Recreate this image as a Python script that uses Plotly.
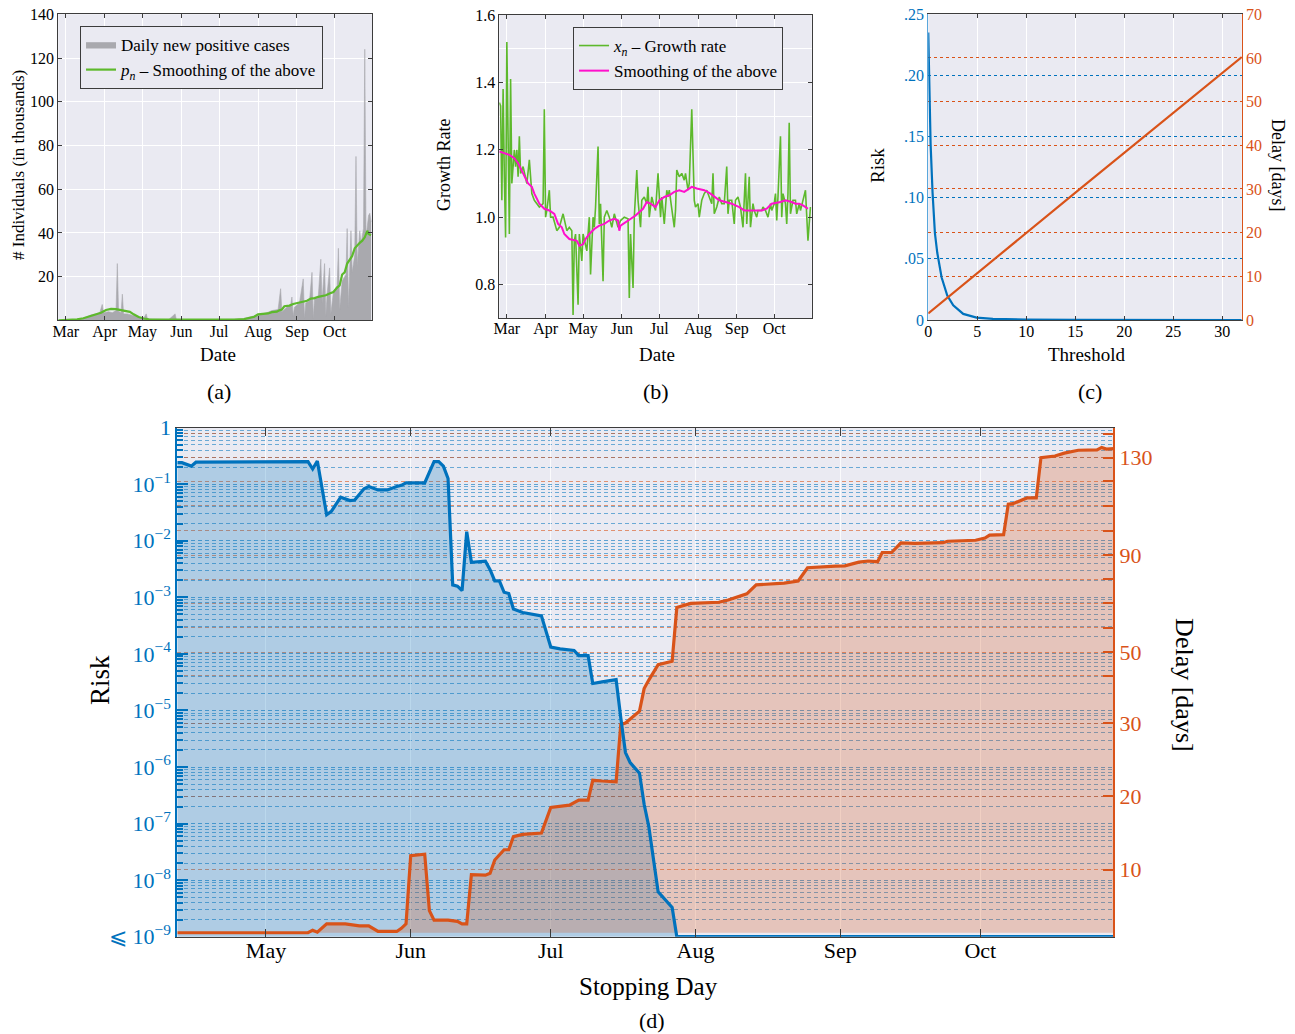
import numpy as np
import pandas as pd
import plotly.graph_objects as go

# ---------------------------------------------------------------- data
# (a) daily new positive cases (thousands), days counted from START_AB
START_AB = "2020-02-24"
CASES_DAY = [0, 8, 14, 18, 22, 26, 30, 33, 35, 36,
             40, 43, 46, 47, 48, 50, 51, 52, 55, 58,
             62, 65, 68, 70, 71, 75, 80, 88, 93, 94,
             100, 110, 120, 130, 140, 147, 152, 157, 162, 166,
             170, 174, 175, 177, 178, 182, 185, 186, 187, 188,
             192, 195, 196, 197, 200, 202, 203, 204, 207, 209,
             210, 212, 213, 214, 216, 217, 219, 222, 223, 224,
             226, 229, 230, 231, 233, 234, 236, 237, 238, 240,
             241, 243, 244, 245, 247, 248, 249]
CASES_K = [0, 0.1, 0.3, 0.6, 1.5, 2.5, 3.0, 3.5, 7.3, 3.5,
           4.0, 3.5, 4.5, 26, 4.2, 3.5, 12, 3.0, 3.0, 2.5,
           2.0, 1.5, 1.0, 3.0, 0.8, 0.6, 0.5, 0.4, 3.0, 0.4,
           0.3, 0.3, 0.3, 0.4, 0.5, 0.8, 1.5, 2.0, 3.0, 3.5,
           4.5, 5.0, 5.0, 14.5, 4.0, 6.0, 7.0, 10.7, 2.0, 6.0,
           8.0, 19, 1.0, 8.0, 9.0, 22, 1.0, 10, 11, 28,
           8, 26, 2, 12, 24, 3, 13, 16, 33, 5,
           18, 21, 42, 6, 41, 22, 30, 75, 25, 41,
           35, 42, 124, 38, 48, 49, 45]
SMOOTH_DAY = [0, 10, 15, 20, 25, 30, 34, 38, 42, 46,
              50, 54, 57, 60, 64, 68, 72, 80, 100, 120,
              140, 148, 152, 156, 159, 163, 167, 170, 174, 176,
              178, 180, 184, 187, 191, 195, 198, 201, 204, 207,
              210, 213, 216, 219, 222, 224, 226, 228, 230, 232,
              234, 236, 238, 240, 242, 244, 246, 247, 249]
SMOOTH_K = [0, 0.2, 0.5, 1.0, 1.8, 2.8, 3.5, 4.8, 5.3, 5.2,
            4.6, 4.3, 3.9, 2.8, 1.6, 0.9, 0.5, 0.4, 0.3, 0.3,
            0.4, 0.6, 1.2, 1.7, 2.8, 3.0, 3.2, 3.8, 4.0, 4.6,
            5.0, 6.5, 6.8, 7.5, 8.0, 8.5, 9.0, 10.0, 10.2, 10.8,
            11.0, 11.5, 12.3, 13.0, 15.0, 16.0, 21.0, 22.0, 26.0, 28.0,
            29.5, 33.0, 34.5, 35.5, 36.5, 38.0, 41.0, 39.5, 39.0]

# (b) growth rate x_n and its smoothing
GROWTH_DAY = [0, 1, 2, 3, 4, 5, 6, 7, 8, 9,
              10, 12, 13, 14, 15, 16, 17, 19, 20, 22,
              24, 26, 28, 30, 32, 35, 36, 37, 38, 40,
              41, 43, 46, 48, 51, 54, 56, 58, 59, 60,
              61, 63, 64, 66, 67, 70, 72, 73, 75, 76,
              77, 79, 80, 81, 83, 84, 86, 88, 90, 92,
              95, 97, 100, 103, 104, 105, 107, 108, 110, 111,
              113, 114, 116, 118, 119, 120, 122, 124, 125, 127,
              128, 129, 130, 132, 134, 135, 136, 138, 140, 141,
              142, 144, 146, 148, 149, 151, 152, 154, 156, 157,
              159, 160, 162, 164, 166, 168, 170, 171, 172, 174,
              176, 178, 180, 182, 183, 184, 186, 188, 189, 191,
              193, 195, 197, 198, 200, 201, 203, 204, 206, 207,
              210, 211, 213, 215, 217, 218, 220, 221, 222, 223,
              225, 226, 227, 229, 230, 231, 232, 233, 235, 237,
              238, 240, 241, 243, 245, 247, 249]
GROWTH = [1.34, 1.33, 1.05, 1.38, 1.12, 0.94, 1.52, 1.15, 0.95, 1.41,
          1.10, 1.20, 1.15, 1.20, 1.12, 1.24, 1.13, 1.15, 1.13, 1.10,
          1.17, 1.07, 1.05, 1.04, 1.03, 1.04, 1.32, 1.00, 1.02, 1.08,
          1.00, 1.00, 0.96, 0.97, 1.01, 0.96, 0.97, 0.96, 0.71, 0.93,
          0.95, 0.74, 0.95, 0.87, 0.95, 0.90, 1.00, 0.83, 1.00, 0.97,
          1.03, 1.21, 0.98, 1.04, 0.81, 1.00, 1.02, 1.00, 0.97, 1.01,
          0.97, 0.99, 1.00, 0.995, 0.76, 0.95, 0.79, 1.00, 1.14, 1.05,
          0.97, 1.05, 1.06, 1.04, 1.09, 1.00, 1.06, 1.03, 1.02, 1.13,
          1.05, 1.00, 1.06, 0.98, 1.08, 1.06, 1.08, 1.02, 0.97, 1.02,
          1.14, 1.12, 1.13, 1.11, 1.13, 1.08, 1.10, 1.32, 1.05, 1.03,
          1.04, 1.00, 1.05, 1.07, 1.08, 1.06, 1.04, 1.13, 1.01, 1.03,
          1.06, 1.04, 1.04, 1.15, 1.01, 1.05, 1.05, 0.98, 1.05, 1.06,
          1.03, 0.97, 1.13, 0.98, 1.12, 0.97, 1.04, 1.02, 1.00, 1.02,
          1.02, 1.03, 1.02, 1.00, 1.04, 1.02, 1.04, 1.07, 0.99, 1.06,
          1.24, 1.00, 1.07, 1.04, 0.98, 1.07, 1.28, 1.01, 1.05, 1.05,
          1.01, 1.04, 1.02, 1.05, 1.08, 0.93, 1.03]
GROWTH_SMOOTH_DAY = [0, 8, 12, 15, 19, 23, 26, 28, 32, 36,
                     40, 44, 47, 50, 52, 56, 62, 64, 67, 69,
                     72, 76, 80, 84, 88, 92, 95, 96, 97, 101,
                     105, 109, 115, 118, 121, 125, 128, 132, 136, 140,
                     144, 148, 154, 158, 164, 169, 176, 181, 186, 192,
                     196, 203, 210, 214, 218, 225, 229, 234, 237, 240,
                     243, 247]
GROWTH_SMOOTH = [1.195, 1.185, 1.175, 1.16, 1.13, 1.10, 1.09, 1.07, 1.04, 1.025,
                 1.02, 1.01, 0.98, 0.97, 0.95, 0.935, 0.93, 0.915, 0.92, 0.935,
                 0.95, 0.965, 0.975, 0.98, 0.99, 0.995, 0.99, 0.96, 0.975, 0.985,
                 0.995, 1.005, 1.025, 1.045, 1.04, 1.03, 1.05, 1.06, 1.065, 1.075,
                 1.08, 1.075, 1.09, 1.085, 1.08, 1.07, 1.05, 1.045, 1.04, 1.03,
                 1.02, 1.02, 1.02, 1.025, 1.04, 1.045, 1.05, 1.045, 1.04, 1.04,
                 1.035, 1.025]

# (c) risk and delay as functions of the threshold
RISK_THRESHOLD = [0, 0.1, 0.24, 0.44, 0.68, 0.92, 1.36, 1.94, 2.55, 3.57, 4.93, 6.6, 10, 15, 32]
RISK_C = [0.235, 0.185, 0.144, 0.104, 0.071, 0.055, 0.035, 0.020, 0.012, 0.005,
          0.002, 0.001, 0.0003, 0.0001, 0.0]
DELAY_THRESHOLD = [0, 15.3, 32]
DELAY_C = [1.5, 29.7, 60.2]

# (d) risk and delay per stopping day, days counted from START_D
START_D = "2020-04-12"
RISK_DAY = [0, 1, 3, 4, 28, 29, 30, 32, 33, 35,
            37, 38, 40, 41, 43, 45, 47, 48, 49, 53,
            55, 56, 57, 58, 59, 60, 61, 62, 63, 66,
            67, 68, 69, 70, 71, 72, 74, 76, 78, 80,
            82, 85, 86, 88, 89, 91, 94, 95, 96, 97,
            99, 100, 101, 103, 106, 107, 201]
RISK_D = [0.24, 0.24, 0.209, 0.245, 0.251, 0.186, 0.257, 0.0288, 0.0331, 0.0589,
          0.0513, 0.0525, 0.0832, 0.0912, 0.0794, 0.0794, 0.0912, 0.0955, 0.106, 0.106,
          0.251, 0.251, 0.209, 0.126, 1.66e-3, 1.58e-3, 1.32e-3, 0.0145, 4.17e-3, 4.37e-3,
          3.09e-3, 1.95e-3, 1.95e-3, 1.23e-3, 1.17e-3, 6.2e-4, 5.4e-4, 5.1e-4, 4.7e-4, 1.32e-4,
          1.23e-4, 1.15e-4, 9.3e-5, 9.3e-5, 3.0e-5, 3.2e-5, 3.5e-5, 7.4e-6, 1.8e-6, 1.2e-6,
          7.8e-7, 2.2e-7, 8.9e-8, 6.2e-9, 3.3e-9, 1e-9, 1e-9]
DELAY_DAY = [0, 28, 29, 30, 32, 36, 39, 41, 43, 47,
             48, 49, 50, 53, 54, 55, 58, 60, 61, 62,
             63, 66, 67, 68, 70, 71, 72, 74, 78, 80,
             84, 86, 88, 89, 91, 94, 95, 96, 99, 100,
             101, 103, 106, 107, 110, 116, 118, 122, 124, 130,
             133, 135, 141, 143, 146, 148, 150, 151, 153, 155,
             158, 164, 165, 171, 173, 174, 177, 178, 179, 182,
             184, 185, 188, 190, 193, 197, 198, 199, 201]
DELAY_D = [0.0, 0.0, 0.4, 0.1, 1.4, 1.4, 1.1, 1.1, 0.2, 0.2,
           0.7, 1.4, 11.9, 12.1, 3.5, 2.0, 2.0, 1.8, 1.4, 1.4,
           9.2, 9.1, 9.4, 11.3, 12.7, 12.7, 14.5, 14.8, 15.0, 18.5,
           18.8, 19.5, 19.5, 22.2, 22.1, 22.0, 29.8, 30.0, 32.5, 37.3,
           39.1, 44.8, 46.2, 68.3, 70.0, 70.5, 71.4, 74.0, 77.7, 78.4,
           79.3, 84.8, 85.5, 85.6, 87.1, 87.6, 87.3, 91.1, 91.1, 95.0,
           94.8, 95.1, 95.7, 96.1, 97.0, 98.2, 98.4, 110.7, 110.9, 113.2,
           113.2, 130.0, 130.7, 131.9, 133.1, 133.3, 134.3, 133.6, 133.8]

# Non-uniform delay scale of panel (d): days -> axis coordinate (decades above the risk floor)
DELAY_SCALE_DAYS = [0, 10, 20, 30, 40, 50, 60, 70, 80, 90, 100, 110, 120, 130, 140]
DELAY_SCALE_COORD = [0.0, 1.118, 2.410, 3.708, 4.542, 4.957, 5.396, 5.822, 6.249,
                     6.675, 7.108, 7.547, 7.985, 8.400, 8.820]
DELAY_LABELLED = [10, 20, 30, 50, 90, 130]

for a, b in [(CASES_DAY, CASES_K), (SMOOTH_DAY, SMOOTH_K), (GROWTH_DAY, GROWTH),
             (GROWTH_SMOOTH_DAY, GROWTH_SMOOTH), (RISK_THRESHOLD, RISK_C),
             (RISK_DAY, RISK_D), (DELAY_DAY, DELAY_D)]:
    assert len(a) == len(b)

# ---------------------------------------------------------------- style
FONT = "Liberation Serif"
BG = "#EAEAF2"
FRAME = "#3c3c3c"
BLUE = "#0072BD"
ORANGE = "#D95319"
GREEN = "#5DB92C"
MAGENTA = "#FF10CC"
GRAY = "#A9A9AE"


def dates(start, days):
    base = pd.Timestamp(start)
    return [(base + pd.Timedelta(days=float(d))).strftime("%Y-%m-%d %H:%M:%S") for d in days]


def delay_coord(days):
    return np.interp(np.asarray(days, float), DELAY_SCALE_DAYS, DELAY_SCALE_COORD)


fig = go.Figure()

# (a)
fig.add_trace(go.Scatter(
    x=dates(START_AB, CASES_DAY), y=CASES_K, xaxis="x", yaxis="y",
    mode="lines", fill="tozeroy", fillcolor=GRAY, line=dict(color=GRAY, width=0.6),
    name="Daily new positive cases", legend="legend"))
fig.add_trace(go.Scatter(
    x=dates(START_AB, SMOOTH_DAY), y=SMOOTH_K, xaxis="x", yaxis="y",
    mode="lines", line=dict(color=GREEN, width=2.2),
    name="<i>p<sub>n</sub></i> – Smoothing of the above", legend="legend"))

# (b)
fig.add_trace(go.Scatter(
    x=dates(START_AB, GROWTH_DAY), y=GROWTH, xaxis="x2", yaxis="y2",
    mode="lines", line=dict(color=GREEN, width=1.6),
    name="<i>x<sub>n</sub></i> – Growth rate", legend="legend2"))
fig.add_trace(go.Scatter(
    x=dates(START_AB, GROWTH_SMOOTH_DAY), y=GROWTH_SMOOTH, xaxis="x2", yaxis="y2",
    mode="lines", line=dict(color=MAGENTA, width=2),
    name="Smoothing of the above", legend="legend2"))

# (c)
fig.add_trace(go.Scatter(
    x=RISK_THRESHOLD, y=RISK_C, xaxis="x3", yaxis="y3", mode="lines",
    line=dict(color=BLUE, width=2.2), showlegend=False))
fig.add_trace(go.Scatter(
    x=DELAY_THRESHOLD, y=DELAY_C, xaxis="x3", yaxis="y4", mode="lines",
    line=dict(color=ORANGE, width=2.2), showlegend=False))

# (d)
risk_x = dates(START_D, RISK_DAY)
delay_x = dates(START_D, DELAY_DAY)
fig.add_trace(go.Scatter(
    x=risk_x, y=RISK_D, xaxis="x4", yaxis="y5", mode="lines", fill="tozeroy",
    fillcolor="rgba(0,114,189,0.25)", line=dict(width=0), showlegend=False))
fig.add_trace(go.Scatter(
    x=delay_x, y=delay_coord(DELAY_D), xaxis="x4", yaxis="y6", mode="lines", fill="tozeroy",
    fillcolor="rgba(217,83,25,0.25)", line=dict(width=0), showlegend=False))
fig.add_trace(go.Scatter(
    x=delay_x, y=delay_coord(DELAY_D), xaxis="x4", yaxis="y6", mode="lines",
    line=dict(color=ORANGE, width=3.2), showlegend=False))
fig.add_trace(go.Scatter(
    x=risk_x, y=RISK_D, xaxis="x4", yaxis="y7", mode="lines",
    line=dict(color=BLUE, width=3.2), showlegend=False))

tick_small = dict(family=FONT, size=16, color="black")
box = dict(showline=True, linecolor=FRAME, linewidth=1, mirror="ticks", ticks="inside",
           ticklen=4, tickcolor=FRAME, zeroline=False, showgrid=True, gridcolor="white",
           gridwidth=1, tickfont=tick_small, automargin=False)
date_ab = dict(type="date", range=["2020-02-24", "2020-10-31"], dtick="M1",
               tick0="2020-03-01", tickformat="%b", ticklabelstandoff=-4)

decades = [10.0 ** k for k in range(-9, 1)]
decade_text = ["⩽ 10<sup>−9</sup>"] + ["10<sup>−%d</sup>" % k for k in range(8, 0, -1)] + ["1"]
minor_vals = [m * 10.0 ** k for k in range(-9, 0) for m in range(2, 10)]
dash = "4px,3px"

fig.update_layout(
    width=1295, height=1034, margin=dict(l=0, r=0, t=0, b=0, autoexpand=False),
    paper_bgcolor="white", plot_bgcolor=BG,
    font=dict(family=FONT, color="black"),
    xaxis=dict(domain=[0.0450, 0.2875], anchor="y", **box, **date_ab),
    yaxis=dict(domain=[0.6901, 0.9862], anchor="x", range=[0, 140],
               tickvals=[20, 40, 60, 80, 100, 120, 140], **box),
    xaxis2=dict(domain=[0.3856, 0.6268], anchor="y2", **box, **date_ab),
    yaxis2=dict(domain=[0.6922, 0.9855], anchor="x2", range=[0.7, 1.6],
                tickvals=[0.8, 1.0, 1.2, 1.4, 1.6], tickformat=".1f",
                minor=dict(dtick=0.1, showgrid=True, gridcolor="white"), **box),
    xaxis3=dict(domain=[0.7168, 0.9589], anchor="y3", range=[0, 32],
                tickvals=[0, 5, 10, 15, 20, 25, 30], ticklabelstandoff=-3, **box),
    yaxis3=dict(domain=[0.6905, 0.9862], anchor="x3", range=[0, 0.25],
                tickvals=[0, 0.05, 0.10, 0.15, 0.20, 0.25],
                ticktext=["0", ".05", ".10", ".15", ".20", ".25"],
                tickfont=dict(family=FONT, size=16, color=BLUE),
                showline=True, linecolor="#5aa7dc", linewidth=1.2,
                ticks="", zeroline=False, showgrid=True, gridcolor=BLUE,
                griddash="dot", gridwidth=1, automargin=False),
    yaxis4=dict(overlaying="y3", anchor="x3", side="right", range=[0, 70], dtick=10,
                tickfont=dict(family=FONT, size=16, color=ORANGE),
                showline=True, linecolor=ORANGE, linewidth=1.2, ticks="",
                zeroline=False, showgrid=True, gridcolor=ORANGE, griddash="dot",
                gridwidth=1, automargin=False),
    xaxis4=dict(domain=[0.1369, 0.8597], anchor="y5", type="date",
                range=[START_D, "2020-10-29 12:00"], dtick="M1", tick0="2020-05-01",
                tickformat="%b", showline=True, linecolor=FRAME, linewidth=1.2,
                mirror="ticks", ticks="inside", ticklen=8, tickcolor=FRAME,
                showgrid=True, gridcolor="rgba(255,255,255,0.75)", zeroline=False,
                ticklabelstandoff=-6,
                tickfont=dict(family=FONT, size=22, color="black"), automargin=False),
    yaxis5=dict(domain=[0.0941, 0.5864], anchor="x4", type="log", range=[-9, 0],
                tickvals=decades, ticktext=decade_text,
                tickfont=dict(family=FONT, size=22, color=BLUE),
                showline=True, linecolor=BLUE, linewidth=2, ticks="inside",
                ticklen=11, tickcolor=BLUE, tickwidth=1.5, zeroline=False,
                showgrid=True, gridcolor="rgba(0,114,189,0.6)", griddash=dash, gridwidth=1,
                automargin=False,
                minor=dict(tickmode="array", tickvals=minor_vals, ticks="inside",
                           ticklen=6, tickcolor=BLUE, showgrid=True,
                           gridcolor="rgba(0,114,189,0.55)", griddash=dash, gridwidth=1)),
    yaxis6=dict(overlaying="y5", anchor="x4", side="right", range=[-0.07, 8.93],
                tickvals=list(delay_coord(DELAY_SCALE_DAYS[1:])),
                ticktext=[str(d) if d in DELAY_LABELLED else "" for d in DELAY_SCALE_DAYS[1:]],
                tickfont=dict(family=FONT, size=22, color=ORANGE),
                showline=True, linecolor=ORANGE, linewidth=1.5, ticks="inside",
                ticklen=11, tickcolor=ORANGE, tickwidth=1.5, zeroline=False,
                showgrid=True, gridcolor="rgba(217,83,25,0.6)", griddash=dash, gridwidth=1,
                automargin=False),
    yaxis7=dict(overlaying="y5", anchor="x4", type="log", range=[-9, 0], visible=False,
                automargin=False),
    legend=dict(x=0.0618, y=0.9749, xanchor="left", yanchor="top", bgcolor=BG,
                bordercolor=FRAME, borderwidth=1, tracegroupgap=0,
                font=dict(family=FONT, size=17, color="black")),
    legend2=dict(x=0.4425, y=0.9739, xanchor="left", yanchor="top", bgcolor=BG,
                 bordercolor=FRAME, borderwidth=1, tracegroupgap=0,
                 font=dict(family=FONT, size=17, color="black")),
)


def label(text, x, y, size, angle=0):
    fig.add_annotation(text=text, x=x, y=y, xref="paper", yref="paper", showarrow=False,
                       xanchor="center", yanchor="middle", textangle=angle,
                       font=dict(family=FONT, size=size, color="black"))


label("Date", 0.1683, 0.6567, 19)
label("# Individuals (in thousands)", 0.0139, 0.8404, 17, -90)
label("Date", 0.5073, 0.6576, 19)
label("Growth Rate", 0.3429, 0.8404, 18, -90)
label("Threshold", 0.8394, 0.6567, 19)
label("Risk", 0.6772, 0.8404, 19, -90)
label("Delay [days]", 0.9869, 0.8404, 18, 90)
label("(a)", 0.1691, 0.6209, 22)
label("(b)", 0.5066, 0.6209, 22)
label("(c)", 0.8417, 0.6209, 22)
label("Stopping Day", 0.5004, 0.0464, 25)
label("Risk", 0.0772, 0.3424, 27, -90)
label("Delay [days]", 0.9150, 0.3375, 26, 90)
label("(d)", 0.5035, 0.0135, 22)

fig.write_html("out.html")
